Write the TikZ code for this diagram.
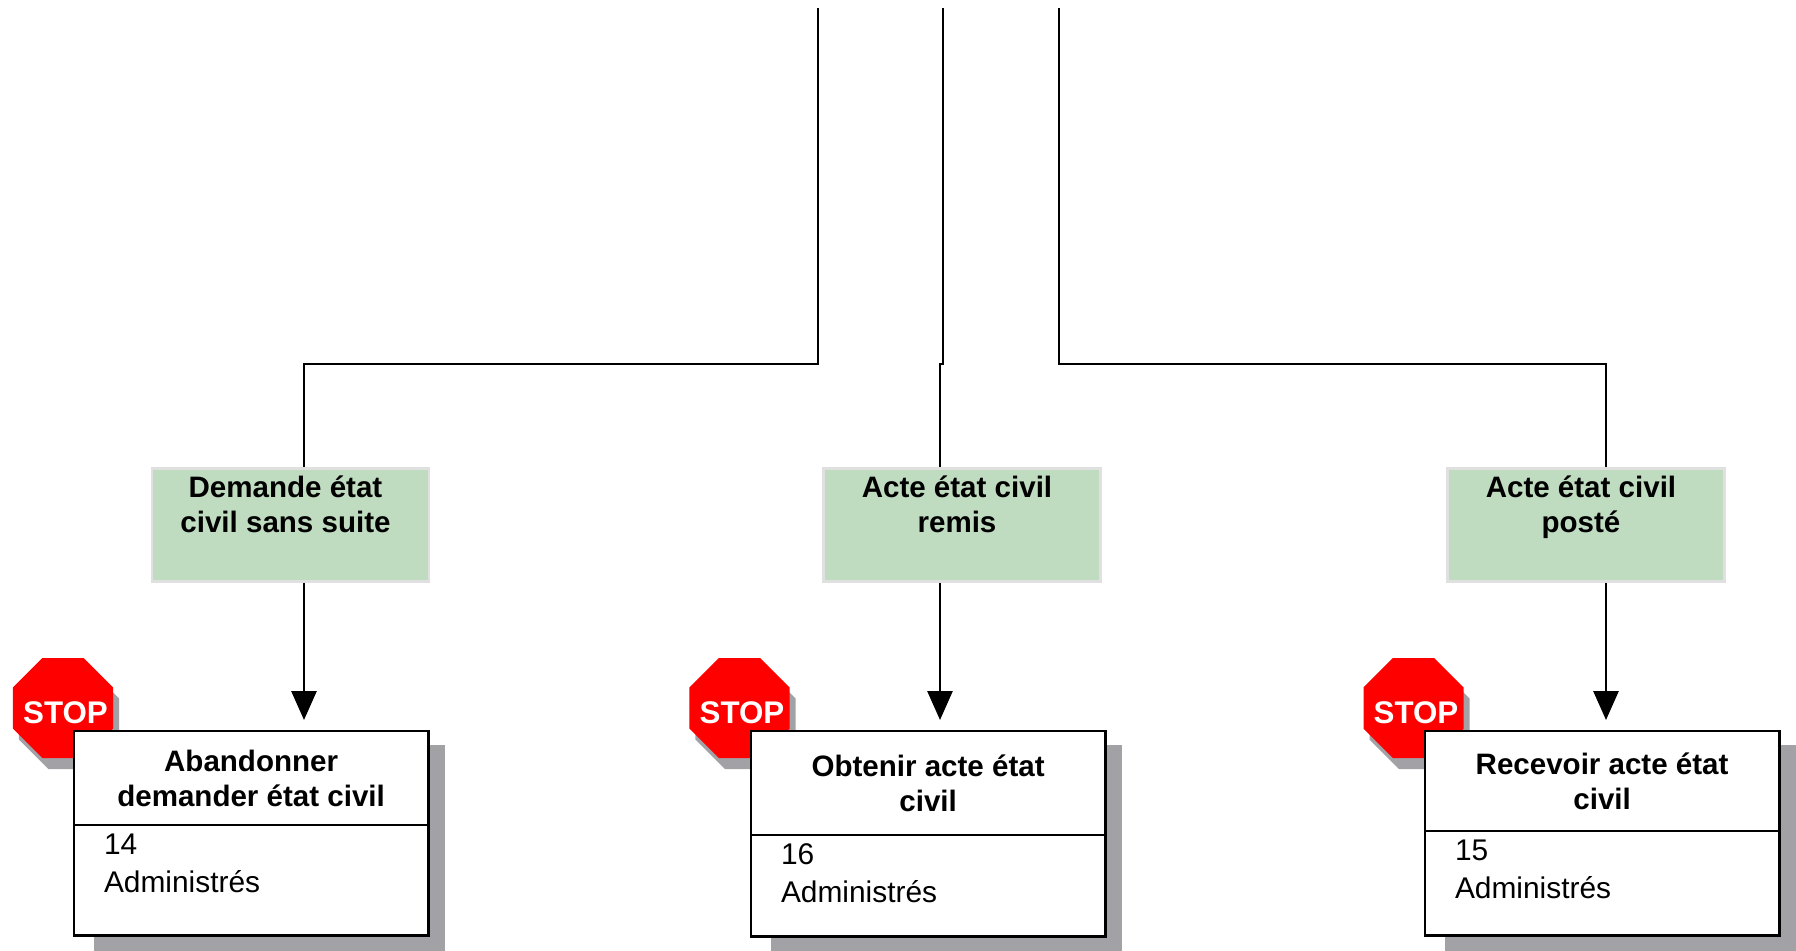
\documentclass[tikz,border=0pt]{standalone}
\usepackage{fontspec}
\setmainfont{Liberation Sans}
\usetikzlibrary{positioning,arrows.meta,shapes.geometric}
\definecolor{eventgreen}{HTML}{BFDBC0}
\definecolor{eventrim}{HTML}{E0E0E0}
\definecolor{shadegrey}{HTML}{A2A1A6}
\definecolor{stopred}{HTML}{FF0000}
\tikzset{event node/.style={rectangle,fill=eventgreen,draw=eventrim,line width=0.8pt,minimum width=2.77cm,inner sep=0pt,align=center,text height=0.64cm,text depth=0.49cm,font=\bfseries\fontsize{8.4}{9.9}\selectfont},
	func title/.style={rectangle,fill=white,draw,line width=0.8pt,minimum width=3.54cm,inner sep=0pt,outer sep=0pt,align=center,anchor=north west,font=\bfseries\fontsize{8.4}{9.9}\selectfont},
	func body/.style={rectangle,fill=white,draw,line width=0.8pt,minimum width=3.54cm,inner sep=0pt,outer sep=0pt,align=left,text width=2.94cm,text height=0.29cm,font=\fontsize{8.5}{10.8}\selectfont},
	box shadow/.style={rectangle,fill=shadegrey,minimum width=3.51cm,minimum height=2.16cm,inner sep=0pt,anchor=north west},
	stop node/.style={regular polygon,regular polygon sides=8,fill=stopred,minimum size=1.082cm,inner sep=0pt,text=white,font=\bfseries\fontsize{8.9}{10}\selectfont},
	stop shadow/.style={regular polygon,regular polygon sides=8,fill=shadegrey,minimum size=1.082cm,inner sep=0pt},
	flow line/.style={draw,line width=0.8pt},
	flow arrow/.style={draw,line width=0.8pt,-{Triangle[length=0.29cm,width=0.25cm]},shorten >=0.11cm},
}
\newcommand{\stoptext}{\raisebox{-4.3pt}[0pt][0pt]{\makebox[0pt]{\hspace*{1.4pt}STOP}}}
\newcommand{\evgap}{\hspace*{0.1cm}}

\begin{document}
\begin{tikzpicture}[x=0.01cm,y=-0.01cm]
	\useasboundingbox (0,0) rectangle (1796,950);
	\clip (0,0) rectangle (1796,950);

	\coordinate (top1) at (818,8);
	\coordinate (top2) at (943,8);
	\coordinate (top3) at (1059,8);
	\coordinate (bend1) at (304,364);
	\coordinate (bend2) at (940,364);
	\coordinate (bend3) at (1606,364);

	\node[event node] (E1) at (290.5,525) {Demande état\evgap\\civil sans suite\evgap};
	\node[event node] (E2) at (962,525) {Acte état civil\evgap\\remis\evgap};
	\node[event node] (E3) at (1586,525) {Acte état civil\evgap\\posté\evgap};

	% first box
	\node[stop shadow] (SS1) at (69,719) {};
	\node[stop node] (S1) at (63,708) {\stoptext};
	\node[box shadow] (B1) at (93,744) {};
	\node[func title,minimum height=0.94cm] (F1) at (74,731) {Abandonner\\demander état civil};
	\node[func body,text depth=0.81cm] (G1) [below=0pt of F1] {14\\Administrés};

	% second box
	\node[stop shadow] (SS2) at (745.5,719) {};
	\node[stop node] (S2) at (739.5,708) {\stoptext};
	\node[box shadow] (B2) at (770,744) {};
	\node[func title,minimum height=1.04cm] (F2) at (751,731) {Obtenir acte état\\civil};
	\node[func body,text depth=0.72cm] (G2) [below=0pt of F2] {16\\Administrés};

	% third box
	\node[stop shadow] (SS3) at (1419.5,719) {};
	\node[stop node] (S3) at (1413.5,708) {\stoptext};
	\node[box shadow] (B3) at (1444,744) {};
	\node[func title,minimum height=1.00cm] (F3) at (1425,731) {Recevoir acte état\\civil};
	\node[func body,text depth=0.75cm] (G3) [below=0pt of F3] {15\\Administrés};

	\path[flow line] (top1) |- (bend1) -- (E1.north -| bend1);
	\path[flow line] (top2) |- (bend2) -- (E2.north -| bend2);
	\path[flow line] (top3) |- (bend3) -- (E3.north -| bend3);

	\path[flow arrow] (E1.south -| bend1) -- (F1.north -| bend1);
	\path[flow arrow] (E2.south -| bend2) -- (F2.north -| bend2);
	\path[flow arrow] (E3.south -| bend3) -- (F3.north -| bend3);
\end{tikzpicture}
\end{document}
